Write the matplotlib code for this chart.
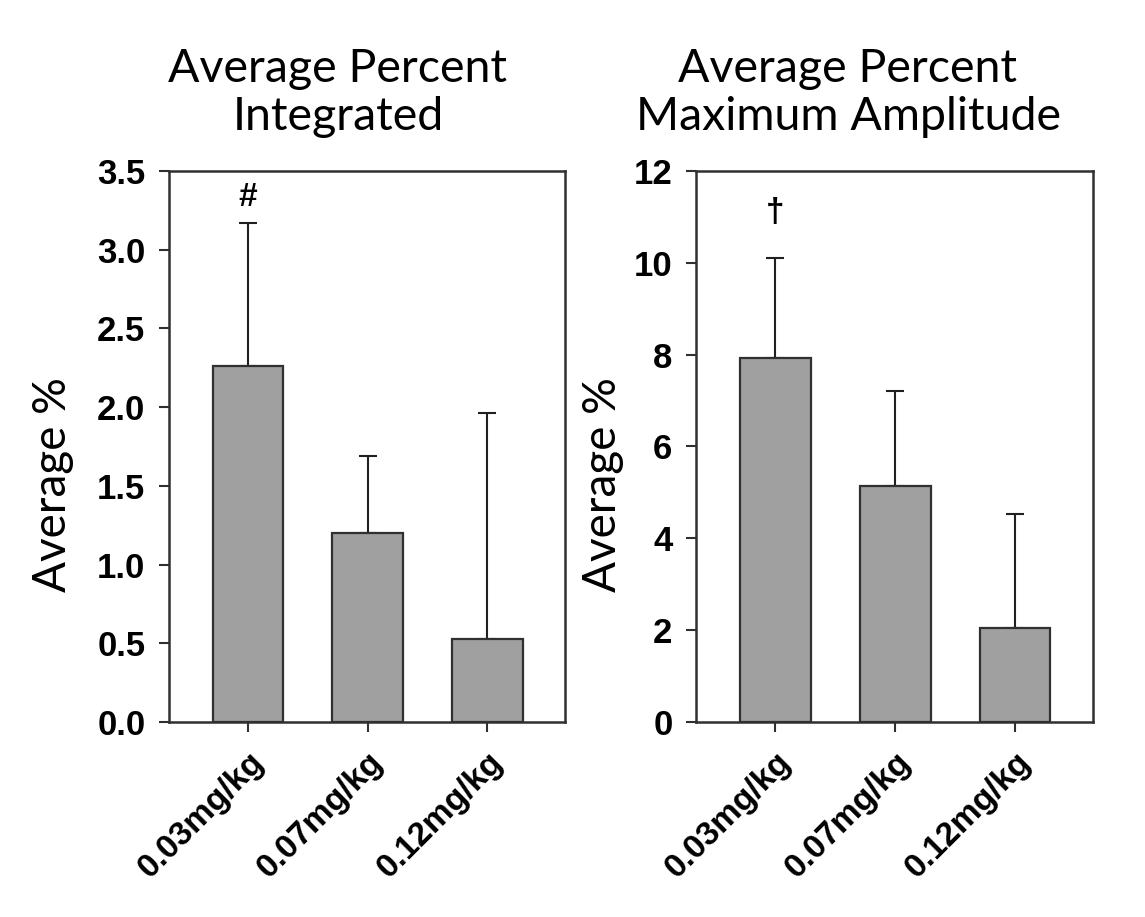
import matplotlib
matplotlib.use("Agg")
import matplotlib.pyplot as plt

doses = ["0.03mg/kg", "0.07mg/kg", "0.12mg/kg"]

integrated_mean = [2.26, 1.20, 0.53]
integrated_err = [0.91, 0.49, 1.43]

amplitude_mean = [7.93, 5.13, 2.05]
amplitude_err = [2.17, 2.07, 2.47]

fig = plt.figure(figsize=(11.45, 9.17), dpi=100)
ax1 = fig.add_axes([0.1476, 0.2127, 0.3459, 0.6008])
ax2 = fig.add_axes([0.6079, 0.2127, 0.3467, 0.6008])

title_font = "Lato"
tick_font = "Liberation Sans"


def draw_panel(ax, means, errs, ymax, yticks, ytick_fmt, mark, mark_y):
    x = [1, 2, 3]
    ax.bar(x, means, width=0.59, color="#a0a0a0", edgecolor="#303030",
           linewidth=1.6, zorder=2)
    ax.errorbar(x, means, yerr=[[0, 0, 0], errs], fmt="none", ecolor="#202020",
                elinewidth=1.5, capsize=6.5, capthick=1.5, zorder=1)
    ax.set_xlim(0.34, 3.65)
    ax.set_ylim(0, ymax)
    ax.set_yticks(yticks)
    ax.set_yticklabels([ytick_fmt.format(v) for v in yticks],
                       fontfamily=tick_font, fontweight="bold", fontsize=25)
    ax.set_xticks(x)
    ax.set_xticklabels(doses, rotation=45, ha="right", rotation_mode="anchor",
                       fontfamily=tick_font, fontweight="bold", fontsize=24)
    ax.tick_params(axis="both", direction="out", length=7, width=1.5,
                   color="#303030", pad=10)
    ax.tick_params(axis="x", pad=11)
    for s in ax.spines.values():
        s.set_linewidth(1.8)
        s.set_color("#303030")
    ax.text(1, mark_y, mark, ha="center", va="center",
            fontfamily=tick_font, fontweight="bold", fontsize=24)


draw_panel(ax1, integrated_mean, integrated_err, 3.5,
           [0.0, 0.5, 1.0, 1.5, 2.0, 2.5, 3.0, 3.5], "{:.1f}", "#", 3.33)
draw_panel(ax2, amplitude_mean, amplitude_err, 12,
           [0, 2, 4, 6, 8, 10, 12], "{:d}", "\u2020", 11.1)

W, H = 1145, 917
fig.text(338 / W, 1 - 93 / H, "Average Percent\nIntegrated", ha="center",
         va="center", fontfamily=title_font, fontsize=33.5, linespacing=1.2)
fig.text(848 / W, 1 - 93 / H, "Average Percent\nMaximum Amplitude", ha="center",
         va="center", fontfamily=title_font, fontsize=33.5, linespacing=1.2)

fig.text(53 / W, 1 - 485 / H, "Average %", rotation=90, ha="center",
         va="center", fontfamily=title_font, fontsize=33)
fig.text(603 / W, 1 - 485 / H, "Average %", rotation=90, ha="center",
         va="center", fontfamily=title_font, fontsize=33)

fig.savefig("out.png", dpi=100, facecolor="white")
